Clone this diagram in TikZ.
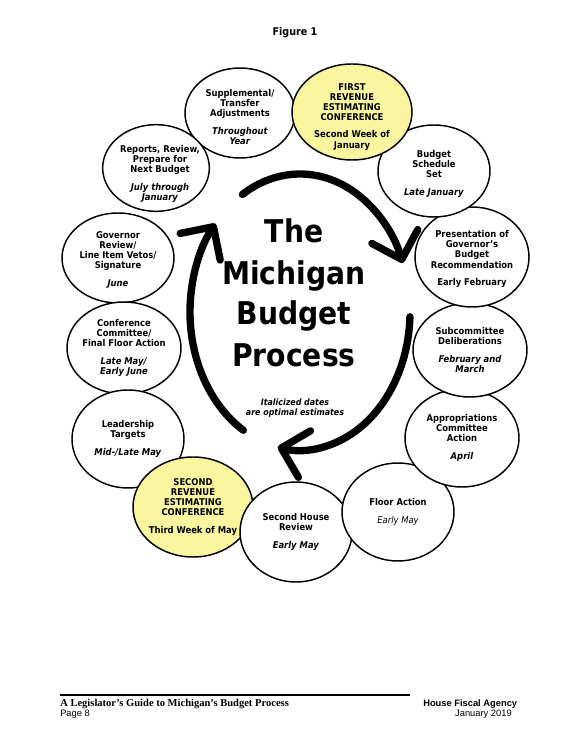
\documentclass[tikz,border=0pt]{standalone}
\usepackage{fontspec}
\setmainfont{DejaVu Sans}[FakeStretch=0.9]
\newfontfamily\footserif{Liberation Serif}
\newfontfamily\footsans{Liberation Sans}
\usetikzlibrary{shapes.geometric,arrows.meta}
\definecolor{revyellow}{RGB}{250,246,160}
\tikzset{
  stage/.style={ellipse, draw=black, line width=1.1pt, fill=white, inner sep=0pt},
  revstage/.style={stage, fill=revyellow},
  stagetext/.style={align=center, inner sep=0pt, font=\fontsize{7}{7.6}\selectfont\bfseries},
  titletext/.style={anchor=base, inner sep=0pt, font=\fontsize{23.5}{28}\selectfont\bfseries},
  cyclearrow/.style={line width=5.5pt, line cap=round, -{Straight Barb[length=18pt,width=36pt,round]}},
}
\begin{document}
\begin{tikzpicture}[x=0.75pt,y=0.75pt]
\useasboundingbox (0,0) rectangle (579,736);
\fill[white] (0,0) rectangle (579,736);

\node[font=\fontsize{8}{9}\selectfont\bfseries] (fig) at (295,703) {Figure 1};

% stages
\node[stage, minimum width=82.5pt, minimum height=67.5pt] (sup) at (240,623) {};
\node[stagetext] (supt) at ([yshift=-3pt]sup.center) {Supplemental/\\Transfer\\Adjustments\\[5.5pt]\textit{Throughout}\\\textit{Year}};

\node[stage, minimum width=80pt, minimum height=65pt] (rep) at (156,568) {};
\node[stagetext] (rept) at ([xshift=3pt,yshift=-4.5pt]rep.center) {Reports, Review,\\Prepare for\\Next Budget\\[5.5pt]\textit{July through}\\\textit{January}};

\node[stage, minimum width=84pt, minimum height=67.5pt] (gov) at (118,478) {};
\node[stagetext] (govt) at ([yshift=-1.5pt]gov.center) {Governor\\Review/\\Line Item Vetos/\\Signature\\[5.5pt]\textit{June}};

\node[stage, minimum width=85.5pt, minimum height=69pt] (conf) at (124,388) {};
\node[stagetext] (conft) at (conf) {Conference\\Committee/\\Final Floor Action\\[5.5pt]\textit{Late May/}\\\textit{Early June}};

\node[stage, minimum width=84pt, minimum height=73.5pt] (lead) at (128,297) {};
\node[stagetext] (leadt) at (lead) {Leadership\\Targets\\[5.5pt]\textit{Mid-/Late May}};

\node[revstage, minimum width=90pt, minimum height=75pt] (second) at (193,229) {};
\node[stagetext] (secondt) at (second) {SECOND\\REVENUE\\ESTIMATING\\CONFERENCE\\[5.5pt]Third Week of May};

\node[stage, minimum width=84pt, minimum height=75pt] (house) at (296,204) {};
\node[stagetext] (houset) at (house) {Second House\\Review\\[5.5pt]\textit{Early May}};

\node[stage, minimum width=84pt, minimum height=73.5pt] (floor) at (398,224) {};
\node[stagetext] (floort) at (floor) {Floor Action\\[5.5pt]{\mdseries\itshape Early May}};

\node[stage, minimum width=85.5pt, minimum height=73.5pt] (app) at (462,298) {};
\node[stagetext] (appt) at (app) {Appropriations\\Committee\\Action\\[5.5pt]\textit{April}};

\node[stage, minimum width=85.5pt, minimum height=70.5pt] (sub) at (470,386) {};
\node[stagetext] (subt) at (sub) {Subcommittee\\Deliberations\\[5.5pt]\textit{February and}\\\textit{March}};

\node[stage, minimum width=85.5pt, minimum height=75pt] (pres) at (472,479) {};
\node[stagetext] (prest) at ([yshift=-1.5pt]pres.center) {Presentation of\\Governor’s\\Budget\\Recommendation\\[5.5pt]Early February};

\node[stage, minimum width=84pt, minimum height=69pt] (bud) at (434,565) {};
\node[stagetext] (budt) at ([yshift=-2pt]bud.center) {Budget\\Schedule\\Set\\[5.5pt]\textit{Late January}};

\node[revstage, minimum width=90pt, minimum height=72pt] (first) at (352,624) {};
\node[stagetext] (firstt) at ([yshift=-3.5pt]first.center) {FIRST\\REVENUE\\ESTIMATING\\CONFERENCE\\[5.5pt]Second Week of\\January};

% title
\node[titletext] (t1) at (294,493) {The};
\node[titletext] (t2) at (294,451) {Michigan};
\node[titletext] (t3) at (294,411) {Budget};
\node[titletext] (t4) at (294,369) {Process};
\node[stagetext, font=\fontsize{6.6}{7.5}\selectfont\bfseries\itshape] (note) at (295,328) {Italicized dates\\are optimal estimates};

% cycle arrows
\coordinate (cyc) at (300,424);
\draw[cyclearrow] (cyc) ++(121.6:82.5pt and 103.5pt) arc[start angle=121.6, end angle=20.8, x radius=82.5pt, y radius=103.5pt];
\draw[cyclearrow] (cyc) ++(-2:82.5pt and 103.5pt) arc[start angle=-2, end angle=-101.7, x radius=82.5pt, y radius=103.5pt];
\draw[cyclearrow] (cyc) ++(239:82.5pt and 103.5pt) arc[start angle=239, end angle=140.2, x radius=82.5pt, y radius=103.5pt];

% footer
\coordinate (ruleL) at (60,41);
\coordinate (ruleR) at (410,41);
\draw[line width=1.5pt] (ruleL) -- (ruleR);
\node[anchor=base west, inner sep=0pt, font=\footserif\bfseries\fontsize{7.9}{9}\selectfont] (guide) at (60,29) {A Legislator’s Guide to Michigan’s Budget Process};
\node[anchor=base west, inner sep=0pt, font=\footsans\fontsize{7}{8}\selectfont] (page) at (60,19) {Page 8};
\node[anchor=base west, inner sep=0pt, font=\footsans\bfseries\fontsize{7}{8}\selectfont] (hfa) at (423,29) {House Fiscal Agency};
\node[anchor=base east, inner sep=0pt, font=\footsans\fontsize{7}{8}\selectfont] (date) at (512,19) {January 2019};
\end{tikzpicture}
\end{document}
